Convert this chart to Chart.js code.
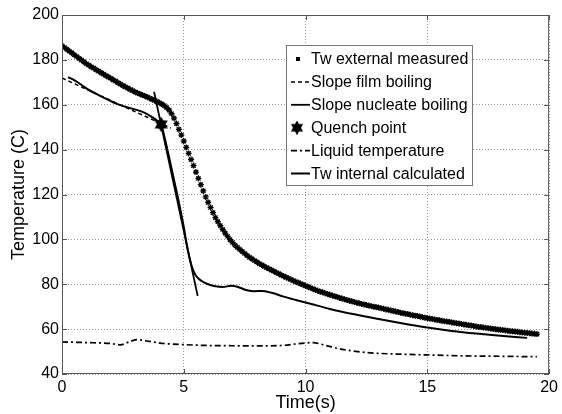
<!DOCTYPE html>
<html>
<head>
<meta charset="utf-8">
<script src="https://cdn.jsdelivr.net/npm/chart.js@4.4.0/dist/chart.umd.min.js"></script>
<style>
  html, body { margin: 0; padding: 0; background: #fff; }
  #wrap { width: 562px; height: 414px; }
</style>
</head>
<body>
<div id="wrap"><canvas id="quenchChart"></canvas></div>
<script>
// Tw external measured, one sample every 0.1 s starting at t = 0
const extStep = 0.1;
const extTemp = [
  186.3, 185.5, 184.7, 183.9, 183.1, 182.3, 181.5, 180.7, 179.9, 179.1, 178.3,
  177.6, 176.9, 176.3, 175.6, 175.0, 174.3, 173.7, 173.0, 172.4, 171.8,
  171.1, 170.5, 169.8, 169.2, 168.5, 168.0, 167.4, 166.8, 166.3, 165.7,
  165.2, 164.8, 164.3, 163.9, 163.4, 162.9, 162.4, 161.9, 161.4, 160.9,
  160.3, 159.6, 158.7, 157.6, 156.0, 154.0, 151.6, 149.0, 146.5, 143.8,
  141.0, 138.3, 135.6, 132.9, 130.0, 127.2, 124.4, 121.6, 118.9, 116.5,
  114.2, 111.9, 109.7, 107.9, 106.1, 104.4, 102.8, 101.3, 99.9, 98.6,
  97.4, 96.4, 95.5, 94.6, 93.7, 92.8, 92.0, 91.3, 90.6, 89.9,
  89.2, 88.6, 88.0, 87.4, 86.9, 86.3, 85.8, 85.2, 84.7, 84.1,
  83.6, 83.1, 82.6, 82.1, 81.6, 81.1, 80.7, 80.2, 79.8, 79.3,
  78.9, 78.4, 78.0, 77.5, 77.1, 76.7, 76.4, 76.0, 75.7, 75.3,
  75.0, 74.6, 74.3, 73.9, 73.6, 73.3, 73.0, 72.7, 72.4, 72.1,
  71.8, 71.5, 71.2, 71.0, 70.7, 70.5, 70.2, 70.0, 69.8, 69.6,
  69.3, 69.1, 68.8, 68.6, 68.3, 68.1, 67.8, 67.6, 67.3, 67.1,
  66.9, 66.7, 66.4, 66.2, 66.0, 65.8, 65.6, 65.3, 65.1, 64.9,
  64.7, 64.5, 64.3, 64.1, 63.9, 63.7, 63.5, 63.4, 63.2, 63.0,
  62.8, 62.6, 62.5, 62.3, 62.1, 61.9, 61.7, 61.6, 61.4, 61.2,
  61.0, 60.9, 60.7, 60.6, 60.4, 60.3, 60.1, 60.0, 59.8, 59.7,
  59.6, 59.4, 59.3, 59.1, 59.0, 58.9, 58.8, 58.6, 58.5, 58.4,
  58.3, 58.2, 58.0, 57.9, 57.8
];

const intTime = [0.25, 0.5, 0.8, 1.1, 1.5, 1.9, 2.2, 2.6, 3.1, 3.4, 3.7, 3.9, 4.07,
  4.2, 4.4, 4.6, 4.8, 5.0, 5.15, 5.3, 5.4, 5.5, 5.6, 5.8, 6.0, 6.3, 6.6, 6.95,
  7.2, 7.6, 7.9, 8.2, 8.6, 9.1, 9.6, 10.2, 11, 12, 13, 14, 15, 16, 17, 18, 19.1];
const intTemp = [172.3, 171.0, 168.8, 166.6, 164.3, 162.2, 160.6, 159.1, 157.6, 156.4, 154.5, 153.0, 151.4,
  146.0, 136.5, 126.5, 116.5, 105.5, 96.0, 89.0, 85.8, 83.8, 82.6, 81.0, 80.0, 79.1, 78.8, 79.3,
  78.9, 77.3, 76.9, 77.0, 76.2, 74.5, 73.0, 71.3, 69.0, 66.6, 64.5, 62.5, 60.7, 59.2, 58.0, 57.0, 56.1];

const filmTime = [0, 4.47];
const filmTemp = [171.9, 149.6];

const nuclTime = [3.78, 5.57];
const nuclTemp = [165.8, 74.8];

const quenchTime = [4.07];
const quenchTemp = [151.2];

const liqTime = [0, 1, 2, 2.4, 2.8, 3.1, 3.6, 4.2, 5, 6, 7, 8, 9, 9.7, 10.3, 10.8, 11.5, 12.3, 13, 14, 15, 16, 17, 18, 19.5];
const liqTemp = [54.3, 54.0, 53.6, 53.0, 54.5, 55.3, 54.5, 53.6, 53.1, 52.7, 52.6, 52.5, 52.7, 53.5, 54.0, 52.8, 51.0, 49.8, 49.2, 48.8, 48.5, 48.2, 48.0, 47.9, 47.7];

const xTicks = [0, 5, 10, 15, 20];
const yTicks = [40, 60, 80, 100, 120, 140, 160, 180, 200];

const seriesLabels = [
  "Tw external measured",
  "Slope film boiling",
  "Slope nucleate boiling",
  "Quench point",
  "Liquid temperature",
  "Tw internal calculated"
];

const FONT = "'Liberation Sans', Arial, Helvetica, sans-serif";

function pairs(xs, ys) {
  return xs.map((x, i) => ({ x: x, y: ys[i] }));
}

function makeHexagram(size) {
  const c = document.createElement("canvas");
  c.width = size;
  c.height = size;
  const g = c.getContext("2d");
  const r = size / 2;
  g.fillStyle = "#000";
  for (let k = 0; k < 2; k++) {
    g.beginPath();
    for (let j = 0; j < 3; j++) {
      const a = -Math.PI / 2 + k * Math.PI + (j * 2 * Math.PI) / 3;
      const px = r + r * Math.cos(a);
      const py = r + r * 1.05 * Math.sin(a);
      if (j === 0) g.moveTo(px, py);
      else g.lineTo(px, py);
    }
    g.closePath();
    g.fill();
  }
  return c;
}

const hexStar = makeHexagram(15);
const hexStarSmall = makeHexagram(14);

// box around the plot with MATLAB style inward ticks
const framePlugin = {
  id: "frame",
  afterDatasetsDraw(chart) {
    const { ctx, chartArea: a, scales } = chart;
    ctx.save();
    ctx.strokeStyle = "#555";
    ctx.lineWidth = 1;
    ctx.setLineDash([]);
    ctx.strokeRect(a.left + 0.5, a.top + 0.5, a.right - a.left - 1, a.bottom - a.top - 1);
    ctx.beginPath();
    xTicks.forEach((v) => {
      const px = Math.round(scales.x.getPixelForValue(v)) + 0.5;
      ctx.moveTo(px, a.bottom); ctx.lineTo(px, a.bottom - 5);
      ctx.moveTo(px, a.top); ctx.lineTo(px, a.top + 5);
    });
    yTicks.forEach((v) => {
      const py = Math.round(scales.y.getPixelForValue(v)) + 0.5;
      ctx.moveTo(a.left, py); ctx.lineTo(a.left + 5, py);
      ctx.moveTo(a.right, py); ctx.lineTo(a.right - 5, py);
    });
    ctx.stroke();
    ctx.restore();
  }
};

// legend drawn inside the plot area
const boxLegendPlugin = {
  id: "boxLegend",
  afterDraw(chart) {
    const ctx = chart.ctx;
    const x0 = 286, y0 = 45, w = 186, h = 140;
    const rowTop = 59, rowStep = 22.9;
    ctx.save();
    ctx.fillStyle = "#fff";
    ctx.fillRect(x0, y0, w, h);
    ctx.strokeStyle = "#777";
    ctx.lineWidth = 1;
    ctx.strokeRect(x0 + 0.5, y0 + 0.5, w, h);
    ctx.font = "16px " + FONT;
    ctx.textBaseline = "middle";
    chart.data.datasets.forEach((ds, i) => {
      const y = rowTop + i * rowStep;
      ctx.strokeStyle = "#000";
      ctx.fillStyle = "#000";
      if (ds.legendSymbol === "dot") {
        ctx.fillRect(296, y - 2, 4, 4);
      } else if (ds.legendSymbol === "hexagram") {
        ctx.drawImage(hexStarSmall, 297 - 7, y - 7);
      } else {
        ctx.lineWidth = ds.borderWidth;
        ctx.setLineDash(ds.borderDash || []);
        ctx.beginPath();
        ctx.moveTo(291, y);
        ctx.lineTo(310, y);
        ctx.stroke();
        ctx.setLineDash([]);
      }
      ctx.fillStyle = "#000";
      ctx.fillText(ds.label, 311, y + 1);
    });
    ctx.restore();
  }
};

new Chart(document.getElementById("quenchChart"), {
  type: "scatter",
  data: {
    datasets: [
      {
        label: seriesLabels[0],
        data: extTemp.map((v, i) => ({ x: i * extStep, y: v })),
        showLine: false,
        pointStyle: "star",
        pointRadius: 3,
        pointBorderWidth: 1.3,
        borderColor: "#000",
        backgroundColor: "#000",
        legendSymbol: "dot"
      },
      {
        label: seriesLabels[1],
        data: pairs(filmTime, filmTemp),
        showLine: true,
        borderColor: "#000",
        borderWidth: 1.5,
        borderDash: [4, 3],
        pointRadius: 0,
        legendSymbol: "line"
      },
      {
        label: seriesLabels[2],
        data: pairs(nuclTime, nuclTemp),
        showLine: true,
        borderColor: "#000",
        borderWidth: 1.8,
        pointRadius: 0,
        legendSymbol: "line"
      },
      {
        label: seriesLabels[3],
        data: pairs(quenchTime, quenchTemp),
        showLine: false,
        pointStyle: hexStar,
        pointRadius: 7,
        legendSymbol: "hexagram"
      },
      {
        label: seriesLabels[4],
        data: pairs(liqTime, liqTemp),
        showLine: true,
        borderColor: "#000",
        borderWidth: 1.7,
        borderDash: [6, 3, 2, 3],
        pointRadius: 0,
        cubicInterpolationMode: "monotone",
        legendSymbol: "line"
      },
      {
        label: seriesLabels[5],
        data: pairs(intTime, intTemp),
        showLine: true,
        borderColor: "#000",
        borderWidth: 2,
        pointRadius: 0,
        cubicInterpolationMode: "monotone",
        legendSymbol: "line"
      }
    ]
  },
  options: {
    responsive: true,
    maintainAspectRatio: false,
    animation: false,
    events: [],
    layout: { padding: { top: 15, right: 8, left: 0, bottom: 0 } },
    plugins: {
      legend: { display: false },
      tooltip: { enabled: false }
    },
    scales: {
      x: {
        type: "linear",
        min: 0,
        max: 20,
        afterBuildTicks: (s) => { s.ticks = xTicks.map((v) => ({ value: v })); },
        afterFit: (s) => { s.height = 40; },
        grid: { color: "#999", drawTicks: false },
        border: { display: false, dash: [1, 2] },
        ticks: { color: "#000", padding: 4, font: { family: FONT, size: 16 } },
        title: {
          display: true,
          text: "Time(s)",
          color: "#000",
          padding: { top: 0, bottom: 0 },
          font: { family: FONT, size: 18 }
        }
      },
      y: {
        min: 40,
        max: 200,
        afterBuildTicks: (s) => { s.ticks = yTicks.map((v) => ({ value: v })); },
        afterFit: (s) => { s.width = 62; },
        grid: { color: "#999", drawTicks: false },
        border: { display: false, dash: [1, 2] },
        ticks: { color: "#000", padding: 3, font: { family: FONT, size: 16 } },
        title: {
          display: true,
          text: "Temperature (C)",
          color: "#000",
          padding: { top: 8, bottom: 0 },
          font: { family: FONT, size: 18 }
        }
      }
    }
  },
  plugins: [framePlugin, boxLegendPlugin]
});
</script>
</body>
</html>
